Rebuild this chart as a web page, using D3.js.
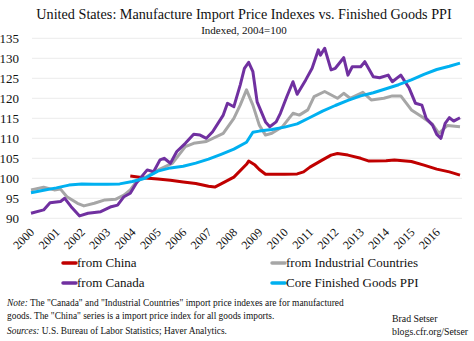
<!DOCTYPE html>
<html>
<head>
<meta charset="utf-8">
<script src="https://cdn.jsdelivr.net/npm/d3@7"></script>
<style>
  body { margin: 0; background: #fff; }
  svg text { font-family: "Liberation Serif", "DejaVu Serif", serif; fill: #111; }
</style>
</head>
<body>
<div id="chart"></div>
<script>
// values, [month, index]
const china = [
    ["2003-12", 100.6], ["2004-07", 100.1], ["2005-01", 99.8], ["2005-07", 99.5],
    ["2006-01", 99.1], ["2006-07", 98.7], ["2007-01", 98.0], ["2007-04", 97.8],
    ["2007-07", 98.6], ["2008-01", 100.3], ["2008-07", 103.5], ["2008-08", 104.3],
    ["2008-11", 103.3], ["2009-01", 102.2], ["2009-04", 101.0], ["2010-01", 101.0],
    ["2010-07", 101.1], ["2010-10", 101.6], ["2011-01", 102.8], ["2011-07", 104.6],
    ["2011-11", 105.8], ["2012-02", 106.2], ["2012-07", 105.8], ["2013-01", 105.0],
    ["2013-05", 104.3], ["2014-01", 104.4], ["2014-05", 104.6], ["2015-01", 104.2],
    ["2015-07", 103.3], ["2016-01", 102.3], ["2016-07", 101.6], ["2016-12", 100.8]
];
const industrial = [
    ["2000-01", 97.1], ["2000-07", 97.75], ["2000-12", 97.1], ["2001-03", 97.3],
    ["2001-06", 95.4], ["2001-11", 93.75], ["2002-02", 93.1], ["2002-07", 93.75],
    ["2002-12", 94.6], ["2003-05", 94.75], ["2003-09", 95.8], ["2003-12", 97.1],
    ["2004-03", 99.2], ["2004-07", 100.2], ["2005-02", 102.3], ["2005-08", 103.8],
    ["2006-02", 107.9], ["2006-06", 108.75], ["2006-12", 109.2], ["2007-08", 111.25],
    ["2008-01", 115.0], ["2008-04", 118.3], ["2008-07", 122.1], ["2008-10", 118.3],
    ["2009-01", 113.3], ["2009-04", 110.8], ["2009-07", 111.25], ["2009-12", 112.9],
    ["2010-05", 116.25], ["2010-08", 115.8], ["2010-12", 117.1], ["2011-03", 120.4],
    ["2011-08", 121.7], ["2012-02", 120.0], ["2012-05", 121.25], ["2012-08", 120.0],
    ["2013-02", 121.5], ["2013-06", 119.6], ["2013-12", 120.0], ["2014-04", 120.6],
    ["2014-08", 120.6], ["2015-01", 117.1], ["2015-06", 115.4], ["2015-11", 113.5],
    ["2016-02", 111.25], ["2016-06", 113.2], ["2016-12", 112.9]
];
const canada = [
    ["2000-01", 91.25], ["2000-07", 92.1], ["2000-10", 93.9], ["2001-03", 94.2],
    ["2001-05", 95.0], ["2001-08", 92.9], ["2001-12", 90.6], ["2002-04", 91.25],
    ["2002-10", 91.65], ["2003-03", 92.9], ["2003-06", 93.3], ["2003-09", 95.4],
    ["2003-12", 96.25], ["2004-03", 98.9], ["2004-08", 102.1], ["2004-11", 101.65],
    ["2005-02", 104.6], ["2005-04", 105.0], ["2005-07", 103.75], ["2005-10", 106.7],
    ["2006-02", 108.75], ["2006-06", 111.0], ["2006-09", 110.8], ["2006-12", 110.0],
    ["2007-03", 111.65], ["2007-08", 115.8], ["2007-10", 118.75], ["2008-01", 117.9],
    ["2008-04", 123.3], ["2008-06", 127.5], ["2008-08", 129.0], ["2008-10", 126.65],
    ["2008-12", 119.1], ["2009-04", 114.1], ["2009-06", 112.9], ["2009-09", 114.1],
    ["2009-11", 116.25], ["2010-02", 120.4], ["2010-05", 124.15], ["2010-07", 121.0],
    ["2010-11", 124.6], ["2011-02", 127.5], ["2011-05", 132.1], ["2011-06", 130.8],
    ["2011-08", 132.5], ["2011-11", 127.1], ["2012-01", 127.5], ["2012-05", 130.15],
    ["2012-07", 125.8], ["2012-09", 127.9], ["2013-01", 127.9], ["2013-03", 129.15],
    ["2013-07", 125.4], ["2013-10", 125.15], ["2014-02", 125.8], ["2014-04", 124.15],
    ["2014-08", 125.8], ["2014-12", 122.5], ["2015-03", 118.75], ["2015-06", 118.3],
    ["2015-08", 115.0], ["2015-11", 113.3], ["2016-01", 111.0], ["2016-03", 110.0],
    ["2016-05", 113.75], ["2016-07", 115.15], ["2016-09", 114.3], ["2016-12", 115.15]
];
const corePPI = [
    ["2000-01", 96.4], ["2000-07", 97.0], ["2001-01", 97.6], ["2001-07", 98.3],
    ["2002-01", 98.6], ["2002-07", 98.5], ["2003-01", 98.5], ["2003-07", 98.6],
    ["2004-01", 99.2], ["2004-07", 100.0], ["2005-01", 101.8], ["2005-07", 102.6],
    ["2006-01", 103.0], ["2006-07", 103.8], ["2007-01", 104.8], ["2007-07", 106.0],
    ["2008-01", 107.3], ["2008-07", 109.0], ["2008-10", 111.5], ["2009-01", 111.8],
    ["2009-07", 112.2], ["2010-01", 112.8], ["2010-07", 113.6], ["2011-01", 115.2],
    ["2011-07", 116.8], ["2012-01", 118.2], ["2012-07", 119.5], ["2013-01", 120.6],
    ["2013-07", 121.4], ["2014-01", 122.4], ["2014-07", 123.4], ["2015-01", 124.6],
    ["2015-07", 126.0], ["2016-01", 127.2], ["2016-07", 128.0], ["2016-12", 128.8]
];
const years = d3.range(2000, 2017);
const yTicks = [90, 95, 100, 105, 110, 115, 120, 125, 130, 135];

const seriesList = [
    { name: "from China", data: china, color: "#c00000" },
    { name: "from Industrial Countries", data: industrial, color: "#a6a6a6" },
    { name: "from Canada", data: canada, color: "#7030a0" },
    { name: "Core Finished Goods PPI", data: corePPI, color: "#00b0f0" }
];

const width = 474, height = 341;
const parse = d3.timeParse("%Y-%m");

const svg = d3.select("#chart")
    .append("svg")
    .attr("width", width)
    .attr("height", height);

const x = d3.scaleTime()
    .domain([parse("2000-01"), parse("2016-12")])
    .range([31, 460]);

const y = d3.scaleLinear()
    .domain([90, 135])
    .range([218.3, 38.3]);

// Title
svg.append("text")
    .attr("x", 244)
    .attr("y", 19)
    .attr("text-anchor", "middle")
    .attr("font-size", "14.2px")
    .text("United States: Manufacture Import Price Indexes vs. Finished Goods PPI");

svg.append("text")
    .attr("x", 244)
    .attr("y", 34)
    .attr("text-anchor", "middle")
    .attr("font-size", "11px")
    .text("Indexed, 2004=100");

// Gridlines
svg.append("g")
    .selectAll("line")
    .data(yTicks)
    .enter()
    .append("line")
    .attr("x1", 32)
    .attr("x2", 462)
    .attr("y1", d => y(d))
    .attr("y2", d => y(d))
    .attr("stroke", "#ececec")
    .attr("stroke-width", 1);

// Y axis
const yAxis = svg.append("g")
    .attr("transform", "translate(19,0)")
    .call(d3.axisLeft(y).tickValues(yTicks).tickSize(0).tickPadding(0));
yAxis.select(".domain").remove();
yAxis.selectAll("text")
    .attr("font-family", "Liberation Serif, serif")
    .attr("font-size", "13px")
    .attr("fill", "#111");

// X axis labels
svg.append("g")
    .selectAll("text")
    .data(years)
    .enter()
    .append("text")
    .attr("transform", d => `translate(${x(new Date(d, 0, 1)) + 4}, 233) rotate(-45)`)
    .attr("text-anchor", "end")
    .attr("font-size", "12px")
    .text(d => d);

// Lines
const line = d3.line()
    .x(d => x(parse(d[0])))
    .y(d => y(d[1]));

svg.append("g")
    .selectAll("path")
    .data(seriesList)
    .enter()
    .append("path")
    .attr("fill", "none")
    .attr("stroke", d => d.color)
    .attr("stroke-width", 3)
    .attr("stroke-linejoin", "round")
    .attr("d", d => line(d.data));

// Legend
const legendPos = [[63, 263], [272, 263], [63, 283], [272, 283]];
const legend = svg.append("g")
    .selectAll("g")
    .data(seriesList)
    .enter()
    .append("g")
    .attr("transform", (d, i) => `translate(${legendPos[i][0]}, ${legendPos[i][1]})`);

legend.append("line")
    .attr("x1", 0)
    .attr("x2", 13)
    .attr("stroke", d => d.color)
    .attr("stroke-width", 3.5)
    .attr("stroke-linecap", "round");

legend.append("text")
    .attr("x", 14)
    .attr("y", 4)
    .attr("font-size", "13px")
    .text(d => d.name);

// Notes
const note1 = svg.append("text")
    .attr("x", 7)
    .attr("y", 306)
    .attr("font-size", "9.4px");
note1.append("tspan").attr("font-style", "italic").text("Note:");
note1.append("tspan").text(" The \"Canada\" and \"Industrial Countries\" import price indexes are for manufactured");

svg.append("text")
    .attr("x", 7)
    .attr("y", 319)
    .attr("font-size", "9.4px")
    .text("goods. The \"China\" series is a import price index for all goods imports.");

const src = svg.append("text")
    .attr("x", 7)
    .attr("y", 334)
    .attr("font-size", "9.4px");
src.append("tspan").attr("font-style", "italic").text("Sources:");
src.append("tspan").text(" U.S. Bureau of Labor Statistics; Haver Analytics.");

svg.append("text")
    .attr("x", 392)
    .attr("y", 322)
    .attr("font-size", "9.8px")
    .text("Brad Setser");

svg.append("text")
    .attr("x", 392)
    .attr("y", 335)
    .attr("font-size", "9.8px")
    .text("blogs.cfr.org/Setser");
</script>
</body>
</html>
